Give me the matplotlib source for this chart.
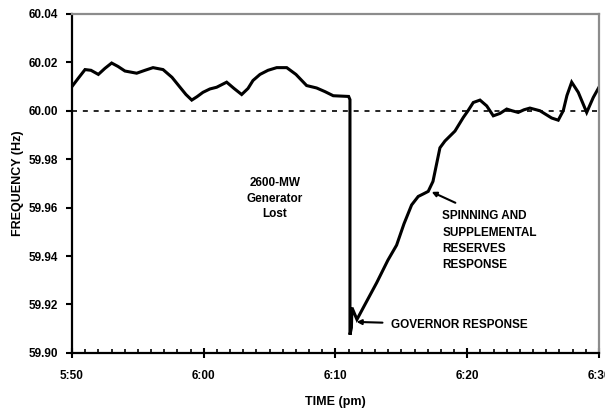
import numpy as np
import matplotlib
matplotlib.use("Agg")
import matplotlib.pyplot as plt

# minutes after 5:50 pm
minutes = [0.0, 0.46, 0.99, 1.44, 2.0, 2.5, 3.01, 3.49, 4.02, 4.91, 5.54, 6.15,
           6.91, 7.59, 8.2, 8.65, 9.09, 9.49, 9.94, 10.47, 10.98, 11.74, 12.3,
           12.88, 13.36, 13.74, 14.27, 14.88, 15.54, 16.3, 17.0, 17.81, 18.57,
           19.2, 19.83, 21.0, 21.1, 21.1, 21.21, 21.25, 21.63, 22.24, 23.13,
           23.98, 24.64, 25.2, 25.78, 26.28, 26.72, 27.04, 27.4, 27.93, 28.31,
           29.07, 29.7, 30.06, 30.46, 30.97, 31.48, 31.98, 32.49, 33.0, 33.4,
           33.87, 34.31, 34.76, 35.52, 36.41, 36.91, 37.29, 37.57, 37.93, 38.43,
           39.07, 39.57, 40.0]
freq = [60.0100, 60.0133, 60.0170, 60.0167, 60.0150, 60.0175, 60.0197, 60.0183,
        60.0164, 60.0155, 60.0167, 60.0178, 60.0170, 60.0138, 60.0097, 60.0067,
        60.0044, 60.0058, 60.0076, 60.0090, 60.0097, 60.0118, 60.0092, 60.0067,
        60.0092, 60.0125, 60.0150, 60.0167, 60.0178, 60.0178, 60.0150, 60.0104,
        60.0094, 60.0079, 60.0062, 60.0059, 60.0046, 59.9075, 59.9104, 59.9187,
        59.9138, 59.9200, 59.9290, 59.9383, 59.9445, 59.9533, 59.9611, 59.9646,
        59.9658, 59.9667, 59.9708, 59.9847, 59.9875, 59.9916, 59.9972, 60.0000,
        60.0034, 60.0044, 60.0020, 59.9979, 59.9989, 60.0007, 60.0000, 59.9993,
        60.0004, 60.0011, 60.0000, 59.9970, 59.9961, 60.0000, 60.0063, 60.0118,
        60.0076, 59.9993, 60.0055, 60.0097]

nominal = 60.00
x_ticks = [0, 10, 20, 30, 40]
x_labels = ["5:50", "6:00", "6:10", "6:20", "6:30"]
y_ticks = [59.90, 59.92, 59.94, 59.96, 59.98, 60.00, 60.02, 60.04]

font = ["Liberation Sans", "DejaVu Sans"]
plt.rcParams["font.family"] = font
plt.rcParams["font.weight"] = "bold"

fig = plt.figure(figsize=(6.05, 4.08), dpi=100)
ax = fig.add_axes([0.119, 0.135, 0.871, 0.831])

ax.axhline(nominal, color="black", lw=1.2, dashes=(3, 3.5))
ax.plot(minutes, freq, color="black", lw=2.2, solid_joinstyle="miter")

ax.set_xlim(0, 40)
ax.set_ylim(59.90, 60.04)
ax.set_xticks(x_ticks)
ax.set_xticklabels(x_labels)
ax.set_xticks(np.arange(0, 41, 1), minor=True)
ax.set_yticks(y_ticks)
ax.set_yticklabels(["%.2f" % v for v in y_ticks])

ax.tick_params(axis="x", which="major", direction="inout", length=7, width=1.5,
               labelsize=8.5, pad=9)
ax.tick_params(axis="x", which="minor", direction="in", length=3, width=1.2)
ax.tick_params(axis="y", which="major", direction="out", length=4, width=1.5,
               labelsize=8.5, pad=6)

for side in ["left", "bottom"]:
    ax.spines[side].set_linewidth(1.6)
    ax.spines[side].set_color("black")
for side in ["top", "right"]:
    ax.spines[side].set_linewidth(1.6)
    ax.spines[side].set_color("#8c8c8c")

ax.set_xlabel("TIME (pm)", fontsize=9, fontweight="bold", labelpad=10)
ax.set_ylabel("FREQUENCY (Hz)", fontsize=9, fontweight="bold", labelpad=3)

ax.text(15.4, 59.9636, "2600-MW\nGenerator\nLost", ha="center", va="center",
        fontsize=8.5, fontweight="bold", linespacing=1.4)
ax.text(28.1, 59.9464, "SPINNING AND\nSUPPLEMENTAL\nRESERVES\nRESPONSE",
        ha="left", va="center", fontsize=8.5, fontweight="bold", linespacing=1.45)
ax.annotate("", xy=(27.3, 59.9665), xytext=(29.1, 59.962),
            arrowprops=dict(arrowstyle="-|>", color="black", lw=1.5,
                            mutation_scale=7, shrinkA=0, shrinkB=0))
ax.annotate("GOVERNOR RESPONSE", xy=(21.6, 59.9128), xytext=(24.2, 59.9116),
            ha="left", va="center", fontsize=8.5, fontweight="bold",
            arrowprops=dict(arrowstyle="-|>", color="black", lw=1.5,
                            mutation_scale=7, shrinkA=4, shrinkB=0))

fig.savefig("out.png", dpi=100)
